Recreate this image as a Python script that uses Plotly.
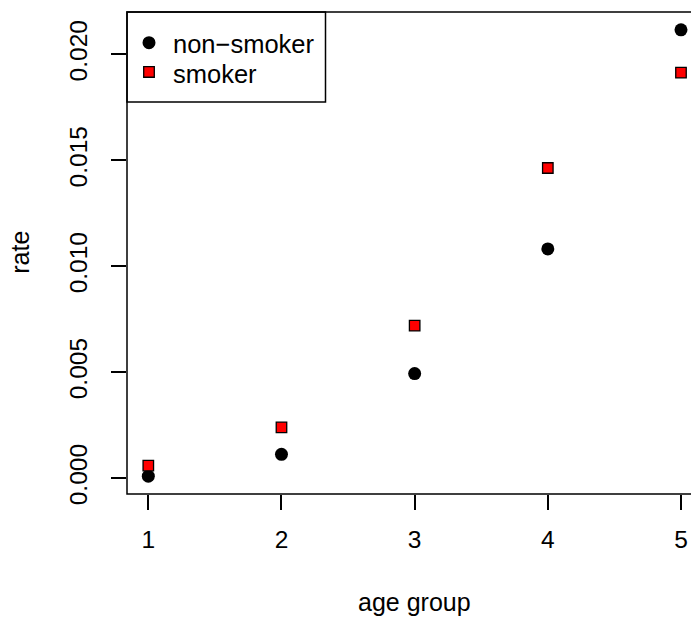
import plotly.graph_objects as go

# ---- data ----
age_groups = [1, 2, 3, 4, 5]
non_smoker = [0.0001, 0.00113, 0.00494, 0.01082, 0.02116]
smoker = [0.0006, 0.0024, 0.0072, 0.01464, 0.01914]
y_ticks = [0.000, 0.005, 0.010, 0.015, 0.020]
x_ticks = [1, 2, 3, 4, 5]
series_names = ["non\u2212smoker", "smoker"]

W, H = 691, 618
ML, MT, MB, MR = 127, 12, 123.5, 0

FONT = "Liberation Sans, Arial, Helvetica, sans-serif"

# R-style 4% axis extension
xmin, xmax = min(age_groups), max(age_groups)
xr = xmax - xmin
x_lo = xmin - 0.04 * xr
x_hi_full = xmax + 0.04 * xr
full_plot_w = 702.3 - ML   # plot region extends past the window on the right
vis_w = W - ML - MR
x_hi = x_lo + (x_hi_full - x_lo) * vis_w / full_plot_w

all_y = non_smoker + smoker
ymin, ymax = min(all_y), max(all_y)
yr = ymax - ymin
y_lo, y_hi = ymin - 0.04 * yr, ymax + 0.04 * yr

plot_h = H - MT - MB


def px_x(p):
    return (p - ML) / vis_w


def px_y(p):
    return (H - MB - p) / plot_h


fig = go.Figure()
fig.add_trace(go.Scatter(
    x=age_groups, y=non_smoker, mode="markers", name=series_names[0],
    marker=dict(symbol="circle", size=13, color="black", line=dict(width=0)),
    cliponaxis=False, showlegend=False))
fig.add_trace(go.Scatter(
    x=age_groups, y=smoker, mode="markers", name=series_names[1],
    marker=dict(symbol="square", size=10.5, color="#ff0000",
                line=dict(width=1.3, color="black")),
    cliponaxis=False, showlegend=False))

shapes = [
    # plot box (extends beyond right edge of the window)
    dict(type="rect", xref="paper", yref="paper", x0=0, x1=(702.3 - ML) / vis_w,
         y0=0, y1=1, line=dict(color="black", width=1.5), layer="above"),
    # legend box
    dict(type="rect", xref="paper", yref="paper", x0=px_x(127), x1=px_x(325.5),
         y0=px_y(102), y1=px_y(12), line=dict(color="black", width=1.5),
         fillcolor="white", layer="below"),
    # legend symbols
    dict(type="circle", xref="paper", yref="paper",
         x0=px_x(149 - 6.5), x1=px_x(149 + 6.5), y0=px_y(42.7 + 6.5), y1=px_y(42.7 - 6.5),
         fillcolor="black", line=dict(width=0)),
    dict(type="rect", xref="paper", yref="paper",
         x0=px_x(149 - 5.3), x1=px_x(149 + 5.3), y0=px_y(72 + 5.3), y1=px_y(72 - 5.3),
         fillcolor="#ff0000", line=dict(width=1.3, color="black")),
]

annotations = [
    dict(text=series_names[0], xref="paper", yref="paper", x=px_x(171), y=px_y(44),
         xanchor="left", yanchor="middle", showarrow=False,
         font=dict(family=FONT, size=25.5, color="black")),
    dict(text=series_names[1], xref="paper", yref="paper", x=px_x(171), y=px_y(73.8),
         xanchor="left", yanchor="middle", showarrow=False,
         font=dict(family=FONT, size=25.5, color="black")),
    dict(text="age group", xref="paper", yref="paper", x=px_x(414.5), y=px_y(603),
         xanchor="center", yanchor="middle", showarrow=False,
         font=dict(family=FONT, size=25, color="black")),
    dict(text="rate", xref="paper", yref="paper", x=px_x(20), y=px_y(253),
         xanchor="center", yanchor="middle", textangle=-90, showarrow=False,
         font=dict(family=FONT, size=25, color="black")),
]

fig.update_layout(
    width=W, height=H,
    margin=dict(l=ML, r=MR, t=MT, b=MB, pad=0),
    paper_bgcolor="white", plot_bgcolor="white",
    font=dict(family=FONT, size=24, color="black"),
    shapes=shapes, annotations=annotations,
    xaxis=dict(range=[x_lo, x_hi], tickvals=x_ticks, ticktext=[str(v) for v in x_ticks],
               ticks="outside", ticklen=15, tickwidth=1.5, tickcolor="black",
               showgrid=False, zeroline=False, showline=False,
               ticklabelstandoff=9, tickfont=dict(size=24.5, color="black")),
    yaxis=dict(range=[y_lo, y_hi], tickvals=y_ticks,
               ticktext=[f"{v:.3f}" for v in y_ticks], tickangle=-90,
               ticks="outside", ticklen=15, tickwidth=1.5, tickcolor="black",
               showgrid=False, zeroline=False, showline=False,
               ticklabelstandoff=14, tickfont=dict(size=24.5, color="black")),
    showlegend=False,
)

fig.write_html("out.html")
